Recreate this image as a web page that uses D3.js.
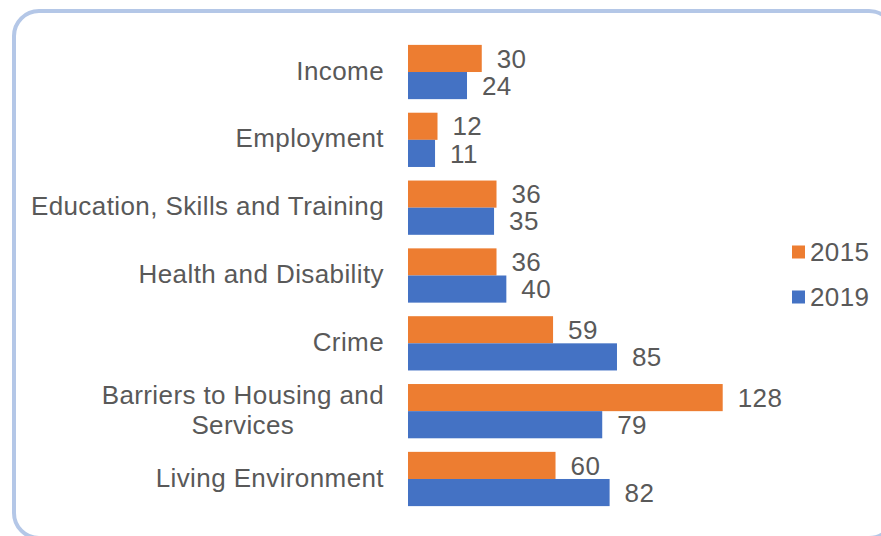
<!DOCTYPE html>
<html>
<head>
<meta charset="utf-8">
<script src="https://cdn.jsdelivr.net/npm/d3@7"></script>
<style>
  html, body { margin: 0; padding: 0; background: #fff; overflow: hidden; }
  svg { display: block; }
  text { font-family: "Liberation Sans", Arial, sans-serif; fill: #595959; letter-spacing: 0.4px; }
</style>
</head>
<body>
<svg id="chart" width="881" height="536"></svg>
<script>
const categories = ["Income", "Employment", "Education, Skills and Training", "Health and Disability", "Crime", "Barriers to Housing and Services", "Living Environment"];
const categoryLines = [["Income"], ["Employment"], ["Education, Skills and Training"], ["Health and Disability"], ["Crime"], ["Barriers to Housing and", "Services"], ["Living Environment"]];
const seriesNames = ["2015", "2019"];
const values2015 = [30, 12, 36, 36, 59, 128, 60];
const values2019 = [24, 11, 35, 40, 85, 79, 82];
const colors = ["#ED7D31", "#4472C4"];

const svg = d3.select("#chart");
const fontSize = 26;

// outer rounded frame
svg.append("rect")
  .attr("x", 14).attr("y", 11)
  .attr("width", 880).attr("height", 527)
  .attr("rx", 25).attr("ry", 25)
  .attr("fill", "#fff")
  .attr("stroke", "#B4C7E7")
  .attr("stroke-width", 4);

const x = d3.scaleLinear().domain([0, 128]).range([408, 722.7]);
const y = d3.scaleBand().domain(categories).range([38.1, 512.9]).paddingInner(0.2).paddingOuter(0.1);
const ySub = d3.scaleBand().domain(seriesNames).range([0, y.bandwidth()]);

const data = categories.map((c, i) => ({cat: c, lines: categoryLines[i], vals: [values2015[i], values2019[i]]}));

const g = svg.append("g");
data.forEach(d => {
  d.vals.forEach((v, j) => {
    const yy = y(d.cat) + ySub(seriesNames[j]);
    g.append("rect")
      .attr("x", x(0)).attr("y", yy)
      .attr("width", x(v) - x(0)).attr("height", ySub.bandwidth())
      .attr("fill", colors[j]);
    g.append("text")
      .attr("x", x(v) + 15).attr("y", yy + ySub.bandwidth() / 2)
      .attr("dy", "0.35em")
      .attr("font-size", fontSize)
      .text(v);
  });
});

// category axis (no line / ticks), labels drawn below
const axis = d3.axisLeft(y).tickSize(0).tickPadding(0).tickFormat("");
const axG = svg.append("g").attr("transform", `translate(${x(0)},0)`).call(axis);
axG.select(".domain").remove();

const labelRight = 384;
const lineH = 30;
data.forEach(d => {
  const cy = y(d.cat) + y.bandwidth() / 2 - 1.5;
  const t = svg.append("text").attr("font-size", fontSize);
  const n = d.lines.length;
  const tmp = svg.append("text").attr("font-size", fontSize);
  let maxW = 0;
  d.lines.forEach(l => { tmp.text(l); maxW = Math.max(maxW, tmp.node().getComputedTextLength()); });
  tmp.remove();
  const cx = labelRight - maxW / 2;
  d.lines.forEach((l, k) => {
    t.append("tspan")
      .attr("x", n > 1 ? cx : labelRight)
      .attr("y", cy + (k - (n - 1) / 2) * lineH)
      .attr("dy", "0.35em")
      .attr("text-anchor", n > 1 ? "middle" : "end")
      .text(l);
  });
});

// legend
const legend = svg.append("g");
const legY = [252, 297];
seriesNames.forEach((s, j) => {
  legend.append("rect")
    .attr("x", 792).attr("y", legY[j] - 6.5)
    .attr("width", 13).attr("height", 13)
    .attr("fill", colors[j]);
  legend.append("text")
    .attr("x", 810).attr("y", legY[j])
    .attr("dy", "0.35em")
    .attr("font-size", fontSize)
    .text(s);
});
</script>
</body>
</html>
